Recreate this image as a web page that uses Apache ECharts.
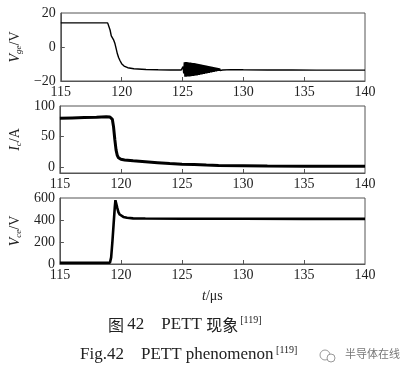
<!DOCTYPE html>
<html><head><meta charset="utf-8">
<script src="https://cdn.jsdelivr.net/npm/echarts@6/dist/echarts.min.js"></script>
<style>html,body{margin:0;padding:0;background:#fff}#c{width:402px;height:367px}</style>
</head><body><div id="c"></div>
<script>
// ---- data ----
const xTickLabels = [115, 120, 125, 130, 135, 140];
const vgeTicks = [-20, 0, 20];
const icTicks = [0, 50, 100];
const vceTicks = [0, 200, 400, 600];

const vgeTimes = [115, 118.85, 118.95, 119.05, 119.15, 119.25, 119.35, 119.45, 119.55, 119.65, 119.75, 119.85, 120.0, 120.2, 120.5, 121.0, 122, 123, 124, 124.9,
  125.00, 125.05, 125.10, 125.15, 125.20, 125.25, 125.30, 125.35, 125.40, 125.45, 125.50, 125.55, 125.60, 125.65, 125.70, 125.75, 125.80, 125.85, 125.90, 125.95,
  126.00, 126.05, 126.10, 126.15, 126.20, 126.25, 126.30, 126.35, 126.40, 126.45, 126.50, 126.55, 126.60, 126.65, 126.70, 126.75, 126.80, 126.85, 126.90, 126.95,
  127.00, 127.05, 127.10, 127.15, 127.20, 127.25, 127.30, 127.35, 127.40, 127.45, 127.50, 127.55, 127.60, 127.65, 127.70, 127.75, 127.80, 127.85, 127.90, 127.95,
  128.00, 128.05, 128.10, 128.15, 128.20, 128.25, 128.30, 128.35, 128.40, 128.45, 128.50,
  129, 130, 132, 134, 136, 138, 140];
const vgeValues = [14.2, 14.2, 13.5, 10, 6.5, 5.5, 4, 2, -1, -4, -6.2, -7.8, -9.8, -11.2, -12.2, -12.8, -13.2, -13.4, -13.5, -13.5,
  -13.2, -11.5, -15.5, -9.0, -17.5, -8.8, -17.5, -8.9, -17.4, -9.0, -17.4, -9.1, -17.3, -9.2, -17.2, -9.3, -17.1, -9.4, -17.0, -9.5,
  -16.9, -9.6, -16.8, -9.7, -16.7, -9.9, -16.5, -10.0, -16.4, -10.2, -16.2, -10.3, -16.1, -10.5, -15.9, -10.6, -15.8, -10.8, -15.6, -10.9,
  -15.5, -11.1, -15.3, -11.2, -15.2, -11.4, -15.0, -11.5, -14.9, -11.7, -14.7, -11.8, -14.6, -12.0, -14.4, -12.1, -14.3, -12.3, -14.1, -12.4,
  -14.0, -12.6, -13.8, -12.7, -13.7, -12.9, -13.5, -13.0, -13.4, -13.1, -13.3,
  -13.3, -13.4, -13.5, -13.5, -13.6, -13.6, -13.6];

const icTimes = [115, 116, 117, 118, 118.8, 119.1, 119.3, 119.4, 119.5, 119.6, 119.7, 119.8, 119.9, 120.0, 120.3, 121, 122, 123, 124, 125, 126, 127, 128, 130, 132, 135, 140];
const icValues = [80, 80.5, 81, 81.5, 82.5, 82, 78, 65, 45, 28, 19, 15, 13.5, 12.5, 11.5, 10, 8.5, 7, 5.5, 4.5, 3.8, 3, 2.5, 2, 1.5, 1.2, 1];

const vceTimes = [115, 119.1, 119.2, 119.3, 119.4, 119.5, 119.55, 119.6, 119.7, 119.8, 119.9, 120.0, 120.2, 120.5, 121, 122, 125, 130, 135, 140];
const vceValues = [12, 12, 60, 200, 360, 520, 580, 570, 510, 470, 450, 440, 428, 420, 415, 413, 412, 411, 410, 410];

// ---- chart ----
const SERIF = '"Liberation Serif", "Times New Roman", serif';
const AX = '#555';
const FS = 14;
const pairs = (t, v) => t.map((x, i) => [x, v[i]]);

const grids = [
  {left: 53, right: 37, top: 13, height: 68},
  {left: 53, right: 37, top: 106, height: 67},
  {left: 53, right: 37, top: 198, height: 66}
].map(g => Object.assign(g, {show: true, borderColor: AX, borderWidth: 1, backgroundColor: 'transparent'}));

function xAxis(i, withName) {
  return {
    gridIndex: i, type: 'value', min: 115, max: 140, interval: 5,
    axisLine: {show: true, onZero: false, lineStyle: {color: AX, width: 1}},
    axisTick: {show: true, inside: true, length: 4, lineStyle: {color: AX},
      customValues: xTickLabels.slice(1, -1)},
    axisLabel: {color: '#222', fontFamily: SERIF, fontSize: FS, margin: 4,
      customValues: xTickLabels},
    splitLine: {show: false},
    name: withName ? '{i|t}{n|/μs}' : '',
    nameLocation: 'middle', nameGap: 25,
    nameTextStyle: {rich: {
      i: {fontFamily: SERIF, fontStyle: 'italic', fontSize: FS, color: '#222'},
      n: {fontFamily: SERIF, fontSize: FS, color: '#222'}
    }}
  };
}
function yAxis(i, min, max, ticks, main, sub, unit, gap) {
  return {
    gridIndex: i, type: 'value', min: min, max: max,
    axisLine: {show: true, onZero: false, lineStyle: {color: AX, width: 1}},
    axisTick: {show: true, inside: true, length: 4, lineStyle: {color: AX},
      customValues: ticks.filter(v => v > min && v < max)},
    axisLabel: {color: '#222', fontFamily: SERIF, fontSize: FS, margin: 5,
      customValues: ticks, formatter: v => String(v).replace('-', '−')},
    splitLine: {show: false},
    name: '{i|' + main + '}{s|' + sub + '}{n|/' + unit + '}',
    nameLocation: 'middle', nameRotate: 90, nameGap: gap,
    nameTextStyle: {rich: {
      i: {fontFamily: SERIF, fontStyle: 'italic', fontSize: FS, color: '#222'},
      s: {fontFamily: SERIF, fontStyle: 'italic', fontSize: 9, color: '#222', padding: [7, 0, 0, 0]},
      n: {fontFamily: SERIF, fontSize: FS, color: '#222'}
    }}
  };
}

const option = {
  animation: false,
  backgroundColor: '#fff',
  grid: grids,
  xAxis: [xAxis(0, false), xAxis(1, false), xAxis(2, true)],
  yAxis: [
    yAxis(0, -20, 20, vgeTicks, 'V', 'ge', 'V', 30),
    yAxis(1, -10, 100, icTicks, 'I', 'c', 'A', 30),
    yAxis(2, 0, 600, vceTicks, 'V', 'ce', 'V', 30)
  ],
  series: [
    {type: 'line', xAxisIndex: 0, yAxisIndex: 0, data: pairs(vgeTimes, vgeValues), showSymbol: false,
      lineStyle: {color: '#000', width: 1.4}},
    {type: 'line', xAxisIndex: 1, yAxisIndex: 1, data: pairs(icTimes, icValues), showSymbol: false,
      lineStyle: {color: '#000', width: 3}},
    {type: 'line', xAxisIndex: 2, yAxisIndex: 2, data: pairs(vceTimes, vceValues), showSymbol: false,
      lineStyle: {color: '#000', width: 2.6}}
  ],
  graphic: [
    {type: 'text', x: 108, y: 314, style: {
      text: '{c|图} {l|42    PETT }{c|现象}{s|[119]}',
      rich: {
        c: {fontFamily: '"Noto Sans CJK SC"', fontSize: 16, fill: '#222', lineHeight: 22},
        l: {fontFamily: SERIF, fontSize: 17, fill: '#222', lineHeight: 22},
        s: {fontFamily: SERIF, fontSize: 10, fill: '#222', lineHeight: 22, padding: [0, 0, 9, 2]}
      }}},
    {type: 'text', x: 80, y: 344, style: {
      text: '{l|Fig.42    PETT phenomenon}{s| [119]}',
      rich: {
        l: {fontFamily: SERIF, fontSize: 17, fill: '#222', lineHeight: 22},
        s: {fontFamily: SERIF, fontSize: 10, fill: '#222', lineHeight: 22, padding: [0, 0, 9, 0]}
      }}},
    {type: 'circle', shape: {cx: 325, cy: 355, r: 5}, style: {fill: 'none', stroke: '#999', lineWidth: 1}},
    {type: 'circle', shape: {cx: 331, cy: 358, r: 4}, style: {fill: '#fff', stroke: '#999', lineWidth: 1}},
    {type: 'text', x: 345, y: 348, style: {text: '半导体在线', fontFamily: '"Noto Sans CJK SC"', fontSize: 11, fill: '#777'}}
  ]
};
echarts.init(document.getElementById('c'), null, {renderer: 'canvas'}).setOption(option);
</script></body></html>
